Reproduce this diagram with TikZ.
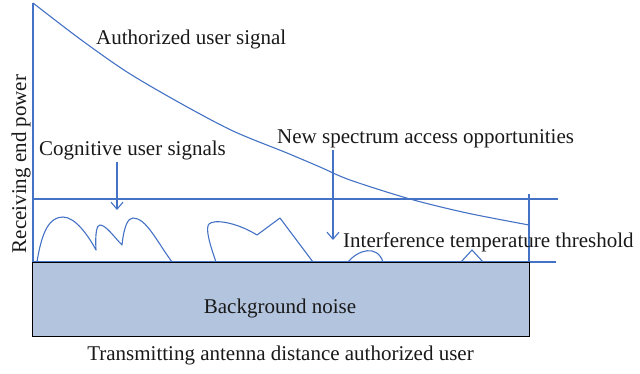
\documentclass[tikz,border=0pt]{standalone}
\usepackage{fontspec}
\setmainfont{Liberation Serif}
\usetikzlibrary{arrows.meta}
\definecolor{sigblue}{RGB}{68,114,196}
\definecolor{noisefill}{RGB}{179,196,222}
\begin{document}
\begin{tikzpicture}[x=1pt,y=-1pt,
  sig/.style={draw=sigblue,line width=1.1pt,line join=round},
  pointer/.style={sig,-{Straight Barb[length=7pt,width=12pt]}},
  lbl/.style={inner sep=0pt,font=\fontsize{21}{25}\selectfont,text=black!90}]
\useasboundingbox (0,0) rectangle (640,373);

% axis, threshold and floor lines
\draw[sig] (33,3) -- (33,262);
\draw[sig] (33,199) -- (558,199);
\draw[sig] (33,262) -- (556,262);
\draw[sig] (529,194) -- (529,262);

% authorized user signal decaying with distance
\draw[sig] plot[smooth,tension=0.5] coordinates {(33,3) (80,39) (127,72) (180,103) (233,131) (287,153) (320,167) (350,180) (410,199) (467,213) (529,225)};

% cognitive user signals below the threshold
\draw[sig] (37,262) .. controls (42,230) and (50,217) .. (63,217)
  .. controls (75,217) and (88,235) .. (96,250)
  .. controls (95,232) and (97,225) .. (100,225)
  .. controls (106,225) and (115,238) .. (122,245)
  .. controls (124,226) and (128,218) .. (133,218)
  .. controls (146,218) and (156,240) .. (172,262);
\draw[sig] (216,262) .. controls (210,245) and (205,228) .. (209,224)
  .. controls (214,219) and (236,222) .. (257,235)
  -- (280,218) -- (313,262);
\draw[sig] (348,262) .. controls (358,250) and (377,244) .. (383,262);
\draw[sig] (461,262) -- (472,250) -- (483,262);

% background noise band
\node[draw=black,line width=1.2pt,fill=noisefill,minimum width=497pt,minimum height=74pt,inner sep=0pt,anchor=north west] (noise) at (32,262) {};
\draw[sig] (noise.north east) -- (556,262);
\node[lbl,anchor=base] (noiselbl) at (280,313) {Background noise};

% labels
\node[lbl,anchor=base west] (auth) at (96,44) {Authorized user signal};
\node[lbl,anchor=base west] (cog) at (39,155) {Cognitive user signals};
\node[lbl,anchor=base west] (newsp) at (277,143) {New spectrum access opportunities};
\node[lbl,anchor=base west] (thr) at (343,247) {Interference temperature threshold};
\node[lbl,anchor=base,rotate=90] (ylab) at (26,164) {Receiving end power};
\node[lbl,anchor=base] (xlab) at (280.5,360) {Transmitting antenna distance authorized user};

% pointers from labels
\coordinate (cogtail) at (117,162);
\coordinate (cogtip) at (117,210);
\coordinate (newtail) at (333,150);
\coordinate (newtip) at (333,240);
\draw[pointer] (cogtail) -- (cogtip);
\draw[pointer] (newtail) -- (newtip);
\end{tikzpicture}
\end{document}
